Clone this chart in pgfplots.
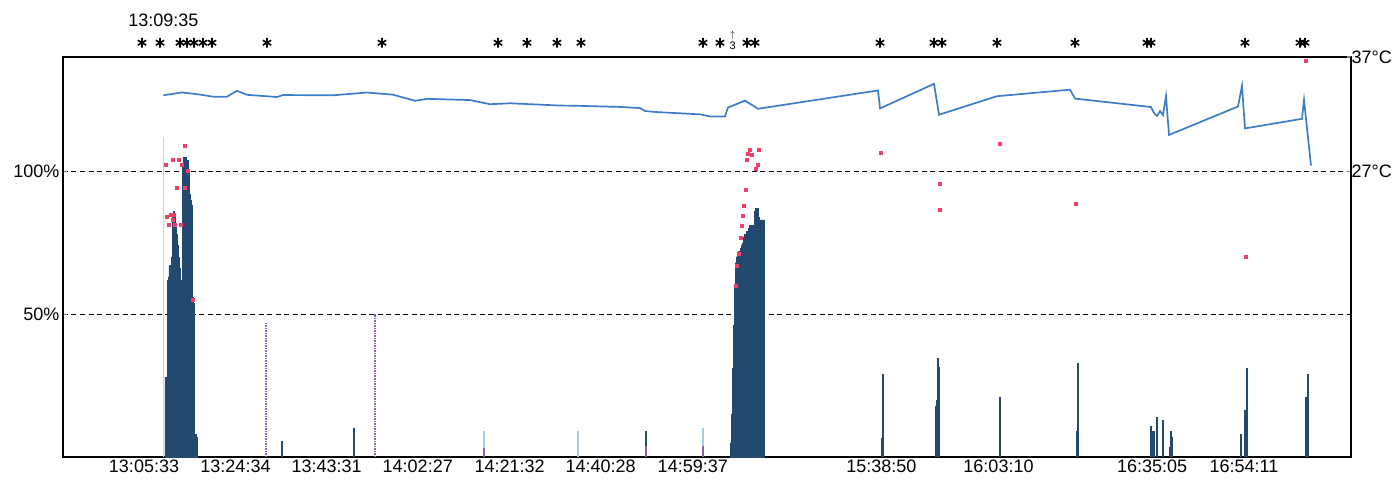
\documentclass[border=0pt]{standalone}
\usepackage{pgfplots}
\pgfplotsset{compat=1.18}
\usepackage{fontspec}
\setmainfont{Liberation Sans}
\definecolor{tempblue}{HTML}{3D7CC9}
\definecolor{barblue}{HTML}{234A6E}
\definecolor{lightbar}{HTML}{A9CCE6}
\definecolor{violetdot}{HTML}{8A5FB0}
\definecolor{reddot}{HTML}{F23D66}
\begin{document}
\begin{tikzpicture}
\begin{axis}[
  scale only axis, width=1288pt, height=400pt,
  xmin=-11.29, xmax=256.44, ymin=0, ymax=140,
  clip=false,
  axis line style={line width=1.4pt},
  xtick={5.55,24.567,43.517,62.45,81.533,100.467,119.617,158.833,183.167,215.083,234.183},
  xticklabels={13:05:33,13:24:34,13:43:31,14:02:27,14:21:32,14:40:28,14:59:37,15:38:50,16:03:10,16:35:05,16:54:11},
  xtick pos=bottom, ytick pos=left,
  xtick style={draw=none},
  ytick style={line width=1.2pt},
  major tick length=4pt,
  ytick={50,100}, yticklabels={50\%,100\%},
  ymajorgrids, grid style={black, line width=1.2pt, dash pattern=on 5pt off 3.5pt},
  ticklabel style={font=\fontsize{18}{20}\selectfont},
  xticklabel style={inner sep=1pt, yshift=-2pt},
]
% start marker
\addplot[ycomb, no marks, gray!35, line width=0.7pt] coordinates {(9.58,112)};
% main activity cluster 1
\addplot[const plot, fill=barblue, draw=barblue, line width=0.3pt] coordinates {
(9.91,28) (10.12,28) (10.33,62) (10.54,63) (10.74,67) (10.95,67) (11.16,70) (11.37,84) (11.58,86) (11.78,85) (11.99,82) (12.20,78) (12.41,74) (12.62,70) (12.82,66) (13.03,60) (13.24,62) (13.45,102) (13.66,105) (13.86,104) (14.07,105) (14.28,103) (14.49,104) (14.70,100) (14.90,92) (15.11,90) (15.32,88) (15.53,56) (15.74,54) (15.94,8) (16.15,8) (16.36,7) (16.57,7)
} \closedcycle;
% cluster 2
\addplot[const plot, fill=barblue, draw=barblue, line width=0.3pt] coordinates {
(127.36,5) (127.57,15) (127.77,31) (127.98,46) (128.19,59) (128.40,68) (128.61,70) (128.81,71) (129.02,72) (129.23,72) (129.44,73) (129.65,74) (129.85,75) (130.06,77) (130.27,78) (130.48,78) (130.69,79) (130.89,79) (131.10,80) (131.31,81) (131.52,81) (131.73,81) (131.93,81) (132.14,71) (132.35,86) (132.56,87) (132.77,87) (132.97,87) (133.18,84) (133.39,83) (133.60,83) (133.81,83) (134.01,83) (134.22,83) (134.43,83)
} \closedcycle;
% isolated dark bars
\addplot[ycomb, no marks, draw=barblue, line width=1.8pt] coordinates {
(34.23,5.5) (49.20,10) (109.90,9) (158.96,6.5) (159.16,29) (170.18,18) (170.38,20) (170.59,34.5) (170.80,31.5) (183.48,21) (199.49,9) (199.69,33) (214.87,11) (215.07,9) (215.49,9) (216.11,14) (217.36,13) (218.82,3.5) (219.03,9) (219.23,7) (233.57,8) (234.40,16.5) (234.82,31) (247.08,21) (247.50,29)
};
% light bars
\addplot[ycomb, no marks, draw=lightbar, line width=1.6pt] coordinates {(76.22,9) (95.76,9) (121.74,10)};
% violet dotted lines
\addplot[ycomb, no marks, draw=violetdot, line width=2.2pt, dash pattern=on 1.5pt off 1pt] coordinates {(30.91,47) (53.57,50)};
\addplot[ycomb, no marks, draw=violetdot, line width=1.8pt] coordinates {(76.22,3) (109.90,4) (121.74,4)};
% red points
\addplot[only marks, mark=square*, mark size=1.5pt, color=reddot] coordinates {
(10.12,102.2) (11.58,104.0) (14.07,108.9) (12.82,104.0) (13.45,102.2) (12.41,94.2) (14.07,94.2) (14.70,100.1) (10.33,84.1) (11.16,84.8) (11.78,84.8) (10.74,81.3) (11.99,81.3) (13.24,81.3) (11.58,83.0) (15.74,55.0)
(131.52,107.7) (131.10,106.3) (131.93,105.9) (133.39,107.7) (130.89,104.2) (133.18,102.4) (132.77,101.0) (130.69,93.7) (130.27,87.8) (130.06,84.3) (129.85,80.8) (129.65,76.6) (129.23,71.0) (128.81,66.8) (128.61,59.8)
(158.74,106.4) (171.01,95.8) (171.01,86.7) (183.48,109.6) (199.27,88.8) (234.61,70.0) (247.08,138.7)
};
% event asterisks above the plot
\addplot[only marks, mark=asterisk, mark size=4.8pt, black, line width=1.6pt] coordinates {
(5.13,145) (8.88,145) (13.03,145) (14.49,145) (15.94,145) (17.81,145) (19.68,145) (31.12,145) (55.02,145) (79.13,145) (85.16,145) (91.39,145) (96.38,145) (121.74,145) (125.27,145) (130.89,145) (132.56,145) (158.54,145) (169.76,145) (171.42,145) (182.85,145) (199.07,145) (214.04,145) (214.87,145) (234.40,145) (245.83,145) (246.87,145)
};
\node[font=\fontsize{18}{20}\selectfont] at (axis cs:9.58,153) {13:09:35};
\node[font=\fontsize{11}{11}\selectfont, inner sep=0pt] at (axis cs:127.9,143.8) {3};
\node[font=\fontsize{9}{9}\selectfont, inner sep=0pt] at (axis cs:127.9,147.6) {$\uparrow$};
\end{axis}
\begin{axis}[
  scale only axis, width=1288pt, height=400pt,
  xmin=-11.29, xmax=256.44, ymin=2, ymax=37,
  axis y line*=right, axis x line=none,
  axis line style={line width=1.4pt},
  ytick={27,37}, yticklabels={27°C,37°C},
  ytick style={line width=1.2pt},
  major tick length=4pt,
  ticklabel style={font=\fontsize{18}{20}\selectfont},
  yticklabel style={xshift=-3pt},
]
\addplot[no marks, color=tempblue, line width=1.7pt] coordinates {
(9.58,33.65) (13.45,33.90) (17.19,33.71) (19.89,33.53) (22.80,33.53) (24.88,34.04) (26.96,33.69) (33.20,33.50) (34.44,33.67) (44.84,33.65) (51.90,33.89) (57.31,33.70) (58.76,33.53) (61.88,33.17) (64.38,33.34) (73.31,33.23) (77.47,32.87) (81.63,32.95) (92.02,32.75) (94.72,32.74) (104.49,32.63) (108.65,32.53) (109.69,32.27) (112.18,32.18) (121.12,31.98) (123.20,31.80) (126.32,31.80) (126.94,32.58) (130.47,33.18) (133.18,32.47) (158.12,34.07) (158.54,32.50) (169.76,34.65) (170.80,31.95) (182.85,33.57) (198.03,34.14) (199.07,33.36) (214.87,32.62) (215.49,32.10) (216.11,31.84) (216.74,32.27) (217.36,31.92) (217.98,33.57) (218.61,30.18) (232.95,32.67) (233.78,34.49) (234.40,30.75) (246.25,31.59) (246.67,33.24) (248.12,27.50)
};
\end{axis}
\pgfresetboundingbox
\path ([shift={(-63pt,-22pt)}]current axis.south west) rectangle ([shift={(47pt,57pt)}]current axis.north east);
\end{tikzpicture}
\end{document}
